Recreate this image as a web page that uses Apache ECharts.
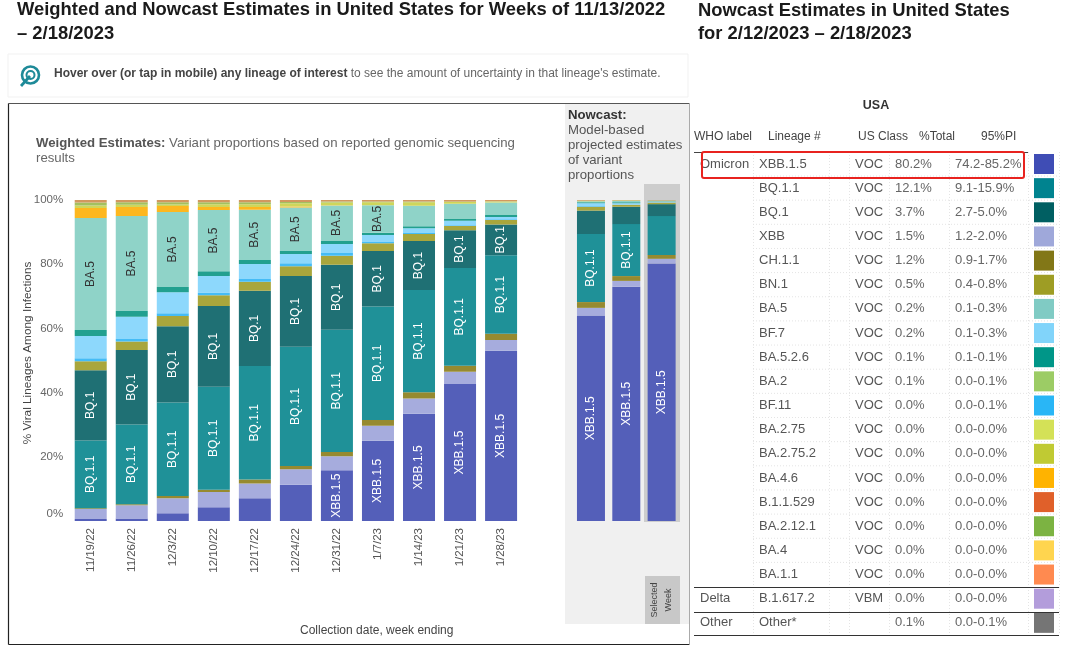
<!DOCTYPE html>
<html><head><meta charset="utf-8">
<style>html,body{margin:0;padding:0;background:#fff}#c{width:1080px;height:656px}</style>
<script src="https://cdn.jsdelivr.net/npm/echarts@6/dist/echarts.min.js"></script>
</head><body><div id="c"></div>
<script>
const weeksWeighted = ['11/19/22','11/26/22','12/3/22','12/10/22','12/17/22','12/24/22','12/31/22','1/7/23','1/14/23','1/21/23','1/28/23'];
const weeksNowcast = ['2/4/23','2/11/23','2/18/23'];
const yTicks = [0,20,40,60,80,100];

// weekly shares: 11 weighted weeks followed by 3 nowcast weeks
const xbb15 = [0.6,0.8,2.4,4.3,7.1,11.3,15.8,25,33.4,42.7,53, 64,73,80.2];
const xbb   = [3.1,4.1,4.7,4.7,4.6,4.8,4.4,4.7,4.8,3.8,3.4, 2.4,1.8,1.5];
const ch11  = [0.3,0.3,0.7,0.7,1.2,1.0,1.3,1.8,1.9,1.9,1.9, 1.8,1.5,1.2];
const bq11  = [21.1,24.9,29.1,32.1,35.4,37.2,38.1,35.3,31.9,30.4,24.5, 21.2,16.2,12.1];
const bq1   = [21.9,23.2,23.8,25.2,23.4,22,20.2,17.3,15.2,11.8,9.6, 7.3,5.4,3.7];
const bn1   = [2.8,2.6,3.2,3.3,2.8,3.1,2.8,2.4,2.2,1.3,1.4, 1.2,0.6,0.5];
const bf11  = [0.9,0.8,0.8,0.9,0.9,0.9,0.9,0.4,0.3,0.2,0.2, 0.2,0.1,0];
const bf7   = [6.9,6.9,6.6,5.1,4.7,2.9,2.8,2.2,1.5,1.4,0.7, 0.9,0.4,0.2];
const ba526 = [1.9,1.8,1.6,1.5,1.2,0.9,1.1,0.7,0.6,0.6,0.6, 0.3,0.3,0.1];
const ba5   = [34.9,29.6,23.4,19.1,15.7,13.6,10.9,8.6,6.4,4.7,3.9, 0.3,0.4,0.2];
const ba46  = [3.1,2.8,1.8,0.9,0.8,0.3,0.1,0,0,0,0, 0,0,0];
const ba275 = [0.8,0.7,0.5,0.9,0.9,1,0.8,0.9,1.1,0.6,0.3, 0.1,0.1,0];
const ba2   = [0.9,0.8,0.7,0.6,0.6,0.4,0.3,0.2,0.2,0.1,0.1, 0.1,0.1,0.1];
const b11529= [0.8,0.7,0.7,0.7,0.7,0.6,0.6,0.5,0.5,0.5,0.4, 0.4,0.3,0.1];

const tableWho     = ['Omicron','','','','','','','','','','','','','','','','','','Delta','Other'];
const tableLineage = ['XBB.1.5','BQ.1.1','BQ.1','XBB','CH.1.1','BN.1','BA.5','BF.7','BA.5.2.6','BA.2','BF.11','BA.2.75','BA.2.75.2','BA.4.6','B.1.1.529','BA.2.12.1','BA.4','BA.1.1','B.1.617.2','Other*'];
const tableClass   = ['VOC','VOC','VOC','VOC','VOC','VOC','VOC','VOC','VOC','VOC','VOC','VOC','VOC','VOC','VOC','VOC','VOC','VOC','VBM',''];
const tableTotal   = ['80.2%','12.1%','3.7%','1.5%','1.2%','0.5%','0.2%','0.2%','0.1%','0.1%','0.0%','0.0%','0.0%','0.0%','0.0%','0.0%','0.0%','0.0%','0.0%','0.1%'];
const tablePI      = ['74.2-85.2%','9.1-15.9%','2.7-5.0%','1.2-2.0%','0.9-1.7%','0.4-0.8%','0.1-0.3%','0.1-0.3%','0.1-0.1%','0.0-0.1%','0.0-0.1%','0.0-0.0%','0.0-0.0%','0.0-0.0%','0.0-0.0%','0.0-0.0%','0.0-0.0%','0.0-0.0%','0.0-0.0%','0.0-0.1%'];
const tableSwatch  = ['#3f4db5','#00838f','#005f62','#9fa8da','#827717','#9e9d24','#80cbc4','#81d4fa','#009688','#9ccc65','#29b6f6','#d4e157','#c0ca33','#ffb300','#e0602a','#7cb342','#ffd54f','#ff8a50','#b39ddb','#757575'];

const stackDefs = [
  {name:'XBB.1.5', d:xbb15, c:'#545fb9', t:'#fff', min:15},
  {name:'XBB', d:xbb, c:'#a6acdd'},
  {name:'CH.1.1', d:ch11, c:'#968a30'},
  {name:'BQ.1.1', d:bq11, c:'#1f9198', t:'#fff', min:13},
  {name:'BQ.1', d:bq1, c:'#1f7074', t:'#fff', min:9},
  {name:'BN.1', d:bn1, c:'#a9a63c'},
  {name:'BF.11', d:bf11, c:'#45bcf6'},
  {name:'BF.7', d:bf7, c:'#8dd8fc'},
  {name:'BA.5.2.6', d:ba526, c:'#22a08f'},
  {name:'BA.5', d:ba5, c:'#8fd3c8', t:'#333', min:8},
  {name:'BA.4.6', d:ba46, c:'#fdb71f'},
  {name:'BA.2.75', d:ba275, c:'#cfd65a'},
  {name:'BA.2', d:ba2, c:'#a3c060'},
  {name:'B.1.1.529', d:b11529, c:'#d2985f'}
];
const FONT = '"Liberation Sans", Arial, sans-serif';

function mkSeries(def, axisIdx, from, to, width){
  return {
    type:'bar', name:def.name, stack:'s'+axisIdx, xAxisIndex:axisIdx, yAxisIndex:axisIdx,
    barWidth:width, z:3,
    itemStyle:{color:def.c},
    data:def.d.slice(from,to).map(v=>({
      value:v,
      label:{show:!!def.min && v>def.min}
    })),
    label:{position:'inside',rotate:90,color:def.t||'#fff',fontSize:12,fontFamily:FONT,formatter:def.name},
    emphasis:{disabled:true}
  };
}
const series = [];
stackDefs.forEach(d=>series.push(mkSeries(d,0,0,11,32)));
stackDefs.forEach(d=>series.push(mkSeries(d,1,11,14,28)));

const g = [];
function txt(x,y,text,opt){ opt=opt||{};
  g.push({type:'text',x:x,y:y,z:opt.z||5,rotation:opt.rotation||0,silent:true,style:{
    text:text,font:(opt.weight||'normal')+' '+(opt.size||12)+'px '+FONT,
    fill:opt.color||'#555',align:opt.align||'left',verticalAlign:'middle',rich:opt.rich
  }});
}
function rect(x,y,w,h,style,z,r){g.push({type:'rect',z:z==null?1:z,silent:true,shape:{x,y,width:w,height:h,r:r||0},style});}
function line(x1,y1,x2,y2,stroke,width,dash){g.push({type:'line',z:2,silent:true,shape:{x1,y1,x2,y2},style:{stroke,lineWidth:width||1,lineDash:dash||null}});}

// titles
const TS = 18.4;
txt(17,10,'Weighted and Nowcast Estimates in United States for Weeks of 11/13/2022',{size:TS,weight:'bold',color:'#1a1a1a'});
txt(17,34,'– 2/18/2023',{size:TS,weight:'bold',color:'#1a1a1a'});
txt(698,11,'Nowcast Estimates in United States',{size:TS,weight:'bold',color:'#1a1a1a'});
txt(698,34,'for 2/12/2023 – 2/18/2023',{size:TS,weight:'bold',color:'#1a1a1a'});

// info strip
rect(8,54,680,43,{fill:'#fff',stroke:'#f1f1f1',lineWidth:1},0);
g.push({type:'circle',z:3,silent:true,shape:{cx:30.5,cy:75,r:8.5},style:{fill:'none',stroke:'#1e8a98',lineWidth:2.6}});
g.push({type:'circle',z:3,silent:true,shape:{cx:30.5,cy:75,r:4},style:{fill:'none',stroke:'#1e8a98',lineWidth:2}});
line(21,86,30,76,'#1e8a98',2.8);
txt(54,74,'{b|Hover over (or tap in mobile) any lineage of interest}{n| to see the amount of uncertainty in that lineage\'s estimate.}',{
  rich:{b:{font:'bold 12px '+FONT,fill:'#444'},n:{font:'12px '+FONT,fill:'#666'}}});

// frame and panels
rect(8.5,103.5,681,541,{fill:'#fff'},0);
line(8.5,103.5,689.5,103.5,'#555',1.2);
line(8.5,103.5,8.5,644.5,'#222',1.2);
line(8.5,644.5,689.5,644.5,'#222',1.2);
line(689.5,103.5,689.5,644.5,'#aaa',1);
rect(565,104,124,520,{fill:'#f0f0f0'},1);
rect(644,184,36,338,{fill:'#cdcdcd'},2);
rect(645,576,35,48,{fill:'#c8c8c8'},2);
txt(655,600,'Selected',{size:9,color:'#444',align:'center',rotation:Math.PI/2});
txt(669,600,'Week',{size:9,color:'#444',align:'center',rotation:Math.PI/2});

txt(36,143,'{b|Weighted Estimates:}{n| Variant proportions based on reported genomic sequencing}',{
  rich:{b:{font:'bold 13.2px '+FONT,fill:'#555'},n:{font:'13.2px '+FONT,fill:'#666'}}});
txt(36,158,'results',{size:13.2,color:'#666'});
txt(568,115,'Nowcast:',{size:13.2,weight:'bold',color:'#333'});
['Model-based','projected estimates','of variant','proportions'].forEach((s,i)=>txt(568,130+15*i,s,{size:13.2,color:'#555'}));
txt(300,631,'Collection date, week ending',{size:12,color:'#444'});
txt(28,353,'% Viral Lineages Among Infections',{size:11.8,color:'#444',align:'center',rotation:Math.PI/2});

// table
const colX = {who:700,lin:759,cls:855,tot:895,pi:955};
const rowY0 = 164, rowH = 24.15;
txt(876,106,'USA',{size:12.5,weight:'bold',color:'#333',align:'center'});
txt(694,137,'WHO label',{size:12,color:'#444'});
txt(768,137,'Lineage #',{size:12,color:'#444'});
txt(858,137,'US Class',{size:12,color:'#444'});
txt(919,137,'%Total',{size:12,color:'#444'});
txt(981,137,'95%PI',{size:12,color:'#444'});
[753,829,849,889,949,1028,1059].forEach(x=>line(x+.5,152,x+.5,635,'#e4e4e4',1,[1,2]));
tableLineage.forEach((l,i)=>{
  const y = rowY0+i*rowH;
  if(i<19 && i!==17 && i!==18) line(753,y+12,1059,y+12,'#e4e4e4',1,[1,2]);
  txt(colX.who,y,tableWho[i],{size:13,color:'#555'});
  txt(colX.lin,y,l,{size:13,color:'#555'});
  txt(colX.cls,y,tableClass[i],{size:13,color:'#555'});
  txt(colX.tot,y,tableTotal[i],{size:13,color:'#666'});
  txt(colX.pi,y,tablePI[i],{size:13,color:'#666'});
  rect(1034,y-10,20,20,{fill:tableSwatch[i]},2);
});
line(694,152.5,1028,152.5,'#444',1);
line(694,587.5,1059,587.5,'#333',1);
line(694,612.5,1059,612.5,'#333',1);
line(694,635.5,1059,635.5,'#333',1);
rect(702,152,322,26,{fill:'none',stroke:'#e8231f',lineWidth:2},6,2);

const axisY = (show,left)=>({
  type:'value',gridIndex:left,min:0,max:100,interval:20,show:show,
  axisLine:{show:false},axisTick:{show:false},splitLine:{show:false},
  axisLabel:{
    formatter:v=>yTicks.includes(v)?(v===0?'{z|0%}':v+'%'):'',
    color:'#666',fontSize:11.5,fontFamily:FONT,margin:7,
    rich:{z:{color:'#666',fontSize:11.5,fontFamily:FONT,padding:[0,0,14,0]}}
  }
});
const axisX = (cats,idx)=>({
  type:'category',gridIndex:idx,data:cats,
  axisLine:{show:false},axisTick:{show:false},
  axisLabel:{rotate:90,color:'#555',fontSize:11.5,fontFamily:FONT,margin:7,interval:0}
});

const chart = echarts.init(document.getElementById('c'));
chart.setOption({
  animation:false,
  backgroundColor:'#fff',
  grid:[
    {left:70.2,top:200,width:451.4,height:321},
    {left:573.3,top:200,width:106,height:321}
  ],
  xAxis:[axisX(weeksWeighted,0),axisX(weeksNowcast,1)],
  yAxis:[axisY(true,0),axisY(false,1)],
  series:series,
  graphic:{elements:g}
});
</script></body></html>
